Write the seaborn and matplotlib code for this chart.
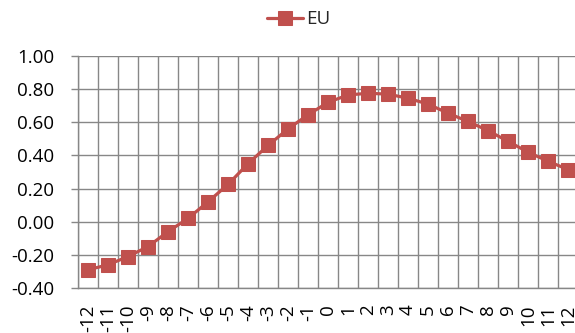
import numpy as np
import pandas as pd
import matplotlib
matplotlib.use("Agg")
import matplotlib.pyplot as plt
import seaborn as sns

# Horizon (periods relative to event) and the EU response
periods = [str(p) for p in range(-12, 13)]
eu_values = [-0.29, -0.26, -0.21, -0.15, -0.06, 0.02, 0.12, 0.225, 0.35, 0.46,
             0.56, 0.645, 0.72, 0.765, 0.775, 0.77, 0.745, 0.71, 0.655, 0.605,
             0.55, 0.485, 0.42, 0.365, 0.315]
y_ticks = [-0.40, -0.20, 0.00, 0.20, 0.40, 0.60, 0.80, 1.00]

sns.set_theme(style="white")
plt.rcParams["font.family"] = ["Open Sans", "DejaVu Sans"]

df = pd.DataFrame({"pos": np.arange(len(periods)), "value": eu_values})

fig = plt.figure(figsize=(5.75, 3.33), dpi=100)
ax = fig.add_axes([78 / 575, 45 / 333, 500 / 575, 232 / 333])

grid_col = "#878787"
red = "#C0504D"

sns.lineplot(data=df, x="pos", y="value", ax=ax, color=red, linewidth=2.3,
             marker="s", markersize=9.5, markeredgecolor=red, label="EU",
             zorder=3)

ax.set_xlim(-0.5, len(periods) - 0.5)
ax.set_ylim(-0.4, 1.0)
ax.set_xticks(np.arange(len(periods)))
ax.set_xticklabels(periods, rotation=90, va="top", ha="center")
ax.set_xticks(np.arange(len(periods) + 1) - 0.5, minor=True)
ax.set_yticks(y_ticks)
ax.set_yticklabels([f"{v:.2f}" for v in y_ticks])

ax.grid(False)
ax.grid(axis="x", which="minor", color=grid_col, linewidth=1.0)
ax.grid(axis="y", which="major", color=grid_col, linewidth=1.0)
ax.tick_params(axis="y", which="major", length=5, width=1.0, color=grid_col,
               left=True, pad=12, labelsize=13.5, labelcolor="black")
ax.tick_params(axis="x", which="both", length=0, pad=12, labelsize=13.5,
               labelcolor="black")
ax.set_xlabel("")
ax.set_ylabel("")
for side in ["top", "right"]:
    ax.spines[side].set_visible(False)
for side in ["left", "bottom"]:
    ax.spines[side].set_color(grid_col)
    ax.spines[side].set_linewidth(1.0)

handles, labels = ax.get_legend_handles_labels()
ax.get_legend().remove()
fig.legend(handles, labels, loc="upper center", bbox_to_anchor=(0.52, 1.02),
           frameon=False, fontsize=13.5, handlelength=1.9, handletextpad=0.2)

fig.savefig("out.png", dpi=100)
